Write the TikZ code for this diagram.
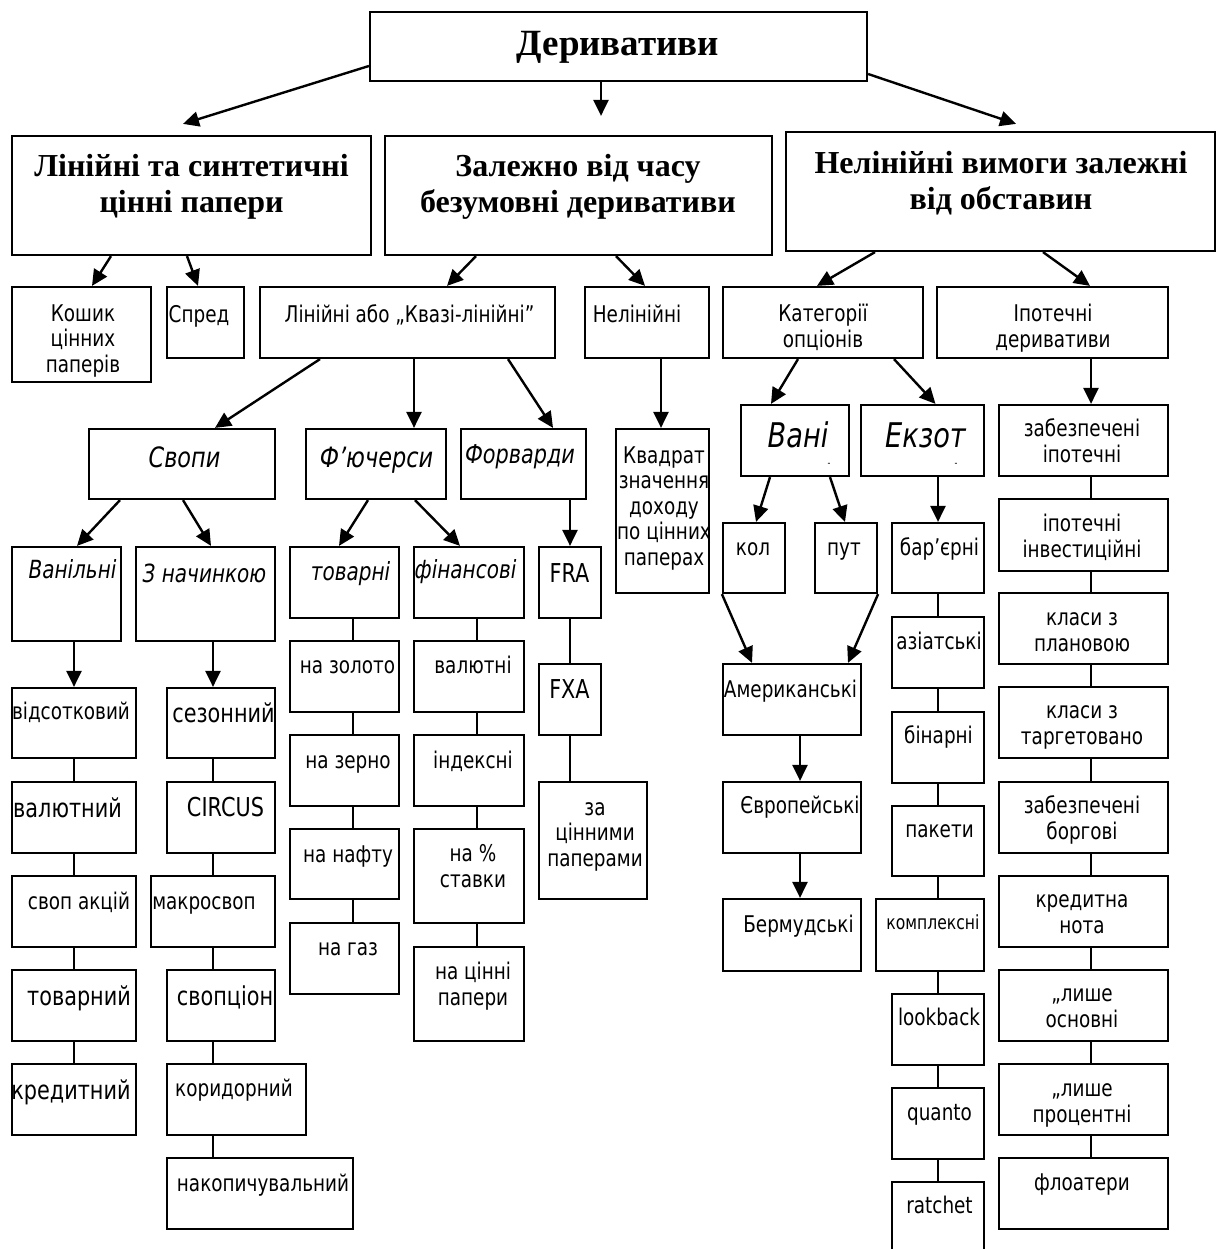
\documentclass[tikz,border=0pt]{standalone}
\usepackage{fontspec}
\setmainfont{Liberation Serif}
\newfontfamily\tah[FakeStretch=0.8]{DejaVu Sans}
\usetikzlibrary{arrows.meta,fit}

\begin{document}
\begin{tikzpicture}[x=1pt, y=-1pt, >={Triangle[length=16pt,width=15pt]},
  box/.style={draw, line width=2.2pt, inner sep=0pt},
  arr/.style={->, line width=2.4pt},
  link/.style={line width=1.6pt},
  txt/.style={anchor=base, inner sep=0pt, align=center, font=\tah\fontsize{23}{25.5}\selectfont},
  bigtxt/.style={font=\tah\fontsize{26}{28}\selectfont},
  smalltxt/.style={font=\tah\fontsize{19.5}{22}\selectfont},
  itltxt/.style={font=\tah\itshape\fontsize{28}{30}\selectfont},
  subtxt/.style={font=\tah\itshape\fontsize{25}{27}\selectfont},
  hdr/.style={anchor=base, inner sep=0pt, align=center, font=\bfseries\fontsize{32}{36}\selectfont}]
\useasboundingbox (0,0) rectangle (1228,1249);
% multi-line texts are placed by the baseline of their last line

% ===== top box =====
\node[box, fit={(370,12) (867,81)}] (deriv) {};
\node[hdr, font=\bfseries\fontsize{37}{40}\selectfont] (deriv-t) at (618,56) {Деривативи};

% ===== second row (bold headings) =====
\node[box, fit={(12,136) (371,255)}] (linsyn) {};
\node[hdr] (linsyn-t) at (191.5,213) {Лінійні та синтетичні\\цінні папери};
\node[box, fit={(385,136) (772,255)}] (timedep) {};
\node[hdr] (timedep-t) at (578,213) {Залежно від часу\\безумовні деривативи};
\node[box, fit={(786,132) (1215,251)}] (nonlinc) {};
\node[hdr] (nonlinc-t) at (1001,210) {Нелінійні вимоги залежні\\від обставин};

\draw[arr] ([yshift=-19.5]deriv.west) -- ([xshift=-8.5,yshift=11]linsyn.north);
\draw[arr] ([xshift=-17.5]deriv.south) -- ([xshift=22.5,yshift=19]timedep.north);
\draw[arr] ([yshift=-27.5]deriv.east) -- ([xshift=15.5,yshift=7]nonlinc.north);

% ===== third row =====
\node[box, fit={(12,287) (151,382)}] (basket) {};
\node[txt] (basket-t) at (83,372) {Кошик\\цінних\\паперів};
\node[box, fit={(167,287) (244,358)}] (spread) {};
\node[txt] (spread-t) at (199,322) {Спред};
\node[box, fit={(260,287) (555,358)}] (linq) {};
\node[txt] (linq-t) at (409.5,322) {Лінійні або „Квазі-лінійні”};
\node[box, fit={(585,287) (709,358)}] (nonlin) {};
\node[txt] (nonlin-t) at (637,322) {Нелінійні};
\node[box, fit={(723,287) (923,358)}] (optcat) {};
\node[txt] (optcat-t) at (823,347) {Категорії\\опціонів};
\node[box, fit={(937,287) (1168,358)}] (mortg) {};
\node[txt] (mortg-t) at (1053,347) {Іпотечні\\деривативи};

\draw[arr] ([xshift=-80.5]linsyn.south) -- ([xshift=10.5]basket.north);
\draw[arr] ([xshift=-4.5]linsyn.south) -- ([xshift=-7.5]spread.north);
\draw[arr] ([xshift=-102.5]timedep.south) -- ([xshift=39.5]linq.north);
\draw[arr] ([xshift=37.5]timedep.south) -- ([xshift=-2]nonlin.north);
\draw[arr] ([xshift=-125.5]nonlinc.south) -- ([xshift=-6]optcat.north);
\draw[arr] ([xshift=42.5]nonlinc.south) -- ([xshift=37.5]mortg.north);

% ===== swaps, futures, forwards =====
\node[box, fit={(89,429) (275,499)}] (swaps) {};
\node[txt, itltxt] (swaps-t) at (184.5,467) {Свопи};
\node[box, fit={(306,429) (446,499)}] (futs) {};
\node[txt, itltxt] (futs-t) at (376.5,467) {Ф’ючерси};
\node[box, fit={(461,429) (586,499)}] (fwds) {};
\node[txt, itltxt, font=\tah\itshape\fontsize{26}{28}\selectfont] (fwds-t) at (520,463) {Форварди};
\node[box, fit={(616,429) (709,593)}] (square) {};
\node[txt] (square-t) at (664,565) {Квадрат\\значення\\доходу\\по цінних\\паперах};

\draw[arr] ([xshift=-87.5]linq.south) -- ([xshift=33]swaps.north);
\draw[arr] ([xshift=6.5]linq.south) -- ([xshift=38]futs.north);
\draw[arr] ([xshift=100.5]linq.south) -- ([xshift=29.5]fwds.north);
\draw[arr] ([xshift=14]nonlin.south) -- ([xshift=-1.5]square.north);

\node[box, fit={(12,547) (121,641)}] (van) {};
\node[txt, subtxt] (van-t) at (72.5,578) {Ванільні};
\node[box, fit={(136,547) (275,641)}] (nach) {};
\node[txt, subtxt] (nach-t) at (204.5,582) {З начинкою};
\node[box, fit={(290,547) (399,618)}] (tov) {};
\node[txt, subtxt] (tov-t) at (350.5,580) {товарні};
\node[box, fit={(414,547) (524,618)}] (fin) {};
\node[txt, subtxt] (fin-t) at (465.5,578) {фінансові};
\node[box, fit={(539,547) (601,618)}] (fra) {};
\node[txt, bigtxt] (fra-t) at (569.5,582) {FRA};

\draw[arr] ([xshift=-62]swaps.south) -- ([xshift=10.5]van.north);
\draw[arr] ([xshift=1]swaps.south) -- ([xshift=5.5]nach.north);
\draw[arr] ([xshift=-8]futs.south) -- ([xshift=-5.5]tov.north);
\draw[arr] ([xshift=39]futs.south) -- ([xshift=-9]fin.north);
\draw[arr] ([xshift=46.5]fwds.south) -- (fra.north);

% vanilla swaps
\node[box, fit={(12,688) (136,758)}] (vids) {};
\node[txt] (vids-t) at (71,719) {відсотковий};
\node[box, fit={(12,782) (136,853)}] (valy) {};
\node[txt, bigtxt] (valy-t) at (67.5,817) {валютний};
\node[box, fit={(12,876) (136,947)}] (akts) {};
\node[txt] (akts-t) at (79,909) {своп акцій};
\node[box, fit={(12,970) (136,1041)}] (tovs) {};
\node[txt, bigtxt] (tovs-t) at (79,1005) {товарний};
\node[box, fit={(12,1064) (136,1135)}] (kreds) {};
\node[txt, bigtxt] (kreds-t) at (71,1099) {кредитний};

\draw[arr] ([xshift=7.5]van.south) -- (vids.north);
\draw[link] (vids.south) -- (valy.north);
\draw[link] (valy.south) -- (akts.north);
\draw[link] (akts.south) -- (tovs.north);
\draw[link] (tovs.south) -- (kreds.north);

% swaps with a twist
\node[box, fit={(167,688) (275,758)}] (sez) {};
\node[txt, bigtxt] (sez-t) at (223.5,722) {сезонний};
\node[box, fit={(167,782) (275,853)}] (circus) {};
\node[txt, bigtxt] (circus-t) at (225.5,816) {CIRCUS};
\node[box, fit={(151,876) (275,947)}] (makro) {};
\node[txt] (makro-t) at (204,909) {макросвоп};
\node[box, fit={(167,970) (275,1041)}] (svopts) {};
\node[txt, bigtxt] (svopts-t) at (225,1005) {свопціон};
\node[box, fit={(167,1064) (306,1135)}] (korid) {};
\node[txt] (korid-t) at (234,1096) {коридорний};
\node[box, fit={(167,1158) (353,1229)}] (nakop) {};
\node[txt] (nakop-t) at (263,1191) {накопичувальний};

\draw[arr] ([xshift=7.5]nach.south) -- ([xshift=-8]sez.north);
\draw[link] ([xshift=-8]sez.south) -- ([xshift=-8]circus.north);
\draw[link] ([xshift=-8]circus.south) -- (makro.north);
\draw[link] (makro.south) -- ([xshift=-8]svopts.north);
\draw[link] ([xshift=-8]svopts.south) -- ([xshift=-23.5]korid.north);
\draw[link] ([xshift=-23.5]korid.south) -- ([xshift=-47]nakop.north);

% commodity futures
\node[box, fit={(290,641) (399,712)}] (gold) {};
\node[txt] (gold-t) at (347.5,673) {на золото};
\node[box, fit={(290,735) (399,806)}] (grain) {};
\node[txt] (grain-t) at (348,768) {на зерно};
\node[box, fit={(290,829) (399,899)}] (oil) {};
\node[txt] (oil-t) at (348,862) {на нафту};
\node[box, fit={(290,923) (399,994)}] (gas) {};
\node[txt] (gas-t) at (348,955) {на газ};

\draw[link] ([xshift=8.5]tov.south) -- ([xshift=8.5]gold.north);
\draw[link] ([xshift=8.5]gold.south) -- ([xshift=8.5]grain.north);
\draw[link] ([xshift=8.5]grain.south) -- ([xshift=8.5]oil.north);
\draw[link] ([xshift=8.5]oil.south) -- ([xshift=8.5]gas.north);

% financial futures
\node[box, fit={(414,641) (524,712)}] (valn) {};
\node[txt] (valn-t) at (473,673) {валютні};
\node[box, fit={(414,735) (524,806)}] (ind) {};
\node[txt] (ind-t) at (473,768) {індексні};
\node[box, fit={(414,829) (524,923)}] (pct) {};
\node[txt] (pct-t) at (473,887) {на \%\\ставки};
\node[box, fit={(414,947) (524,1041)}] (sec) {};
\node[txt] (sec-t) at (473,1005) {на цінні\\папери};

\draw[link] ([xshift=8]fin.south) -- ([xshift=8]valn.north);
\draw[link] ([xshift=8]valn.south) -- ([xshift=8]ind.north);
\draw[link] ([xshift=8]ind.south) -- ([xshift=8]pct.north);
\draw[link] ([xshift=8]pct.south) -- ([xshift=8]sec.north);

% forwards
\node[box, fit={(539,664) (601,735)}] (fxa) {};
\node[txt, bigtxt] (fxa-t) at (569.5,698) {FXA};
\node[box, fit={(539,782) (647,899)}] (secz) {};
\node[txt] (secz-t) at (595,866) {за\\цінними\\паперами};

\draw[link] (fra.south) -- (fxa.north);
\draw[link] (fxa.south) -- ([xshift=-23]secz.north);

% ===== option categories =====
\node[box, fit={(741,405) (849,476)}] (vani) {};
\node[txt, font=\tah\itshape\fontsize{34}{36}\selectfont] (vani-t) at (798,447) {Вані};
\node[txt, font=\tah\fontsize{10}{10}\selectfont] (vani-m) at (829,466) {-};
\node[box, fit={(861,405) (984,476)}] (ekzot) {};
\node[txt, font=\tah\itshape\fontsize{34}{36}\selectfont] (ekzot-t) at (925.5,447) {Екзот};
\node[txt, font=\tah\fontsize{10}{10}\selectfont] (ekzot-m) at (956,466) {-};

\draw[arr] ([xshift=-25]optcat.south) -- ([xshift=-24]vani.north);
\draw[arr] ([xshift=71]optcat.south) -- ([xshift=13]ekzot.north);

\node[box, fit={(723,523) (785,593)}] (kol) {};
\node[txt] (kol-t) at (753,555) {кол};
\node[box, fit={(815,523) (877,593)}] (put) {};
\node[txt] (put-t) at (844,555) {пут};
\node[box, fit={(723,664) (861,735)}] (amer) {};
\node[txt] (amer-t) at (790.5,697) {Американські};
\node[box, fit={(723,782) (861,853)}] (evro) {};
\node[txt] (evro-t) at (800,813) {Європейські};
\node[box, fit={(723,899) (861,971)}] (berm) {};
\node[txt] (berm-t) at (798.5,932) {Бермудські};

\draw[arr] ([xshift=-25]vani.south) -- ([xshift=2]kol.north);
\draw[arr] ([xshift=35]vani.south) -- ([xshift=-1]put.north);
\draw[arr] (kol.south west) -- ([xshift=-40]amer.north);
\draw[arr] (put.south east) -- ([xshift=56]amer.north);
\draw[arr] ([xshift=8]amer.south) -- ([xshift=8]evro.north);
\draw[arr] ([xshift=8]evro.south) -- ([xshift=8]berm.north);

% exotic options
\node[box, fit={(892,523) (984,593)}] (barr) {};
\node[txt] (barr-t) at (939.5,555) {бар’єрні};
\node[box, fit={(892,617) (984,688)}] (asia) {};
\node[txt] (asia-t) at (939,649) {азіатські};
\node[box, fit={(892,712) (984,783)}] (bin) {};
\node[txt] (bin-t) at (938.5,743) {бінарні};
\node[box, fit={(892,806) (984,876)}] (pak) {};
\node[txt] (pak-t) at (939.5,837) {пакети};
\node[box, fit={(876,899) (984,971)}] (kompl) {};
\node[txt, smalltxt] (kompl-t) at (933,929) {комплексні};
\node[box, fit={(892,994) (984,1065)}] (look) {};
\node[txt] (look-t) at (939,1025) {lookback};
\node[box, fit={(892,1088) (984,1159)}] (quanto) {};
\node[txt] (quanto-t) at (939.5,1120) {quanto};
\node[box, fit={(892,1182) (984,1265)}] (ratch) {};
\node[txt] (ratch-t) at (939.5,1213) {ratchet};

\draw[arr] ([xshift=15.5]ekzot.south) -- (barr.north);
\draw[link] (barr.south) -- (asia.north);
\draw[link] (asia.south) -- (bin.north);
\draw[link] (bin.south) -- (pak.north);
\draw[link] (pak.south) -- ([xshift=8]kompl.north);
\draw[link] ([xshift=8]kompl.south) -- (look.north);
\draw[link] (look.south) -- (quanto.north);
\draw[link] (quanto.south) -- (ratch.north);

% ===== mortgage column =====
\node[box, fit={(999,405) (1168,476)}] (zab1) {};
\node[txt] (zab1-t) at (1082,462) {забезпечені\\іпотечні};
\node[box, fit={(999,499) (1168,571)}] (ipinv) {};
\node[txt] (ipinv-t) at (1082,557) {іпотечні\\інвестиційні};
\node[box, fit={(999,593) (1168,664)}] (plan) {};
\node[txt] (plan-t) at (1082,651) {класи з\\плановою};
\node[box, fit={(999,687) (1168,758)}] (targ) {};
\node[txt] (targ-t) at (1082,744) {класи з\\таргетовано};
\node[box, fit={(999,782) (1168,853)}] (zab2) {};
\node[txt] (zab2-t) at (1082,839) {забезпечені\\боргові};
\node[box, fit={(999,876) (1168,947)}] (credn) {};
\node[txt] (credn-t) at (1082,933) {кредитна\\нота};
\node[box, fit={(999,970) (1168,1041)}] (princ) {};
\node[txt] (princ-t) at (1082,1027) {„лише\\основні};
\node[box, fit={(999,1064) (1168,1135)}] (intr) {};
\node[txt] (intr-t) at (1082,1122) {„лише\\процентні};
\node[box, fit={(999,1158) (1168,1229)}] (float) {};
\node[txt] (float-t) at (1082,1190) {флоатери};

\draw[arr] ([xshift=38.5]mortg.south) -- ([xshift=7.5]zab1.north);
\draw[link] ([xshift=7.5]zab1.south) -- ([xshift=7.5]ipinv.north);
\draw[link] ([xshift=7.5]ipinv.south) -- ([xshift=7.5]plan.north);
\draw[link] ([xshift=7.5]plan.south) -- ([xshift=7.5]targ.north);
\draw[link] ([xshift=7.5]targ.south) -- ([xshift=7.5]zab2.north);
\draw[link] ([xshift=7.5]zab2.south) -- ([xshift=7.5]credn.north);
\draw[link] ([xshift=7.5]credn.south) -- ([xshift=7.5]princ.north);
\draw[link] ([xshift=7.5]princ.south) -- ([xshift=7.5]intr.north);
\draw[link] ([xshift=7.5]intr.south) -- ([xshift=7.5]float.north);
\end{tikzpicture}
\end{document}
